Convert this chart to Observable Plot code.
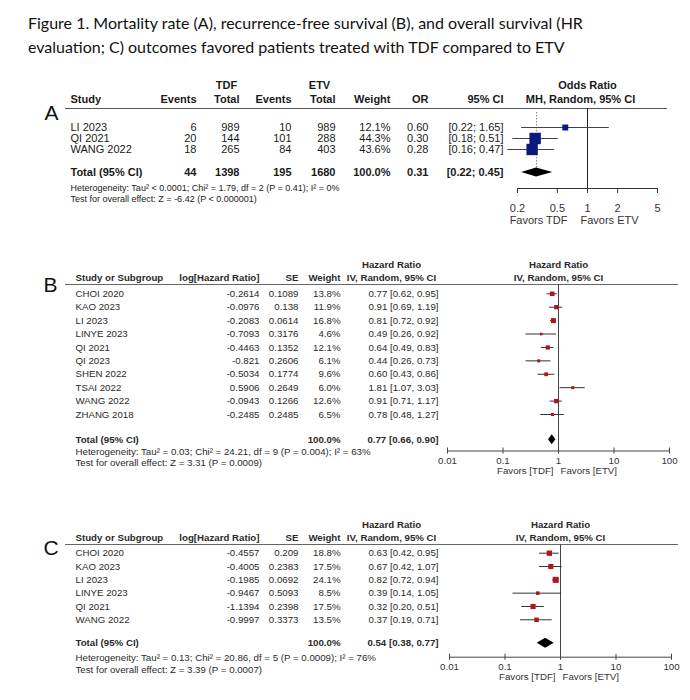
<!DOCTYPE html>
<html><head><meta charset="utf-8">
<script src="https://cdn.jsdelivr.net/npm/d3@7"></script>
<script src="https://cdn.jsdelivr.net/npm/@observablehq/plot@0.6"></script>
<style>
body{margin:0;background:#fff;}
#wrap{position:relative;width:690px;height:700px;background:#fff;overflow:hidden;}
#title{position:absolute;left:28px;top:11px;font-family:Lato,"Open Sans",sans-serif;font-size:16px;line-height:24px;color:#111;white-space:nowrap;}
.panel{position:absolute;left:0;}
</style></head><body>
<div id="wrap"><div id="title">Figure 1. Mortality rate (A), recurrence-free survival (B), and overall survival (HR<br>evaluation; C) outcomes favored patients treated with TDF compared to ETV</div></div>
<script>
// ---------- Panel A: mortality (odds ratio) ----------
const aStudies   = ["LI 2023", "QI 2021", "WANG 2022"];
const aTdfEvents = [6, 20, 18];
const aTdfTotal  = [989, 144, 265];
const aEtvEvents = [10, 101, 84];
const aEtvTotal  = [989, 288, 403];
const aWeight    = [12.1, 44.3, 43.6];
const aOR        = [0.60, 0.30, 0.28];
const aLo        = [0.22, 0.18, 0.16];
const aHi        = [1.65, 0.51, 0.47];
const aTotalCounts = [44, 1398, 195, 1680];
const aTotalOR   = [0.31, 0.22, 0.45]; // estimate, lower, upper
const aTicks     = [0.2, 0.5, 1, 2, 5];
const aHet  = "Heterogeneity: Tau\u00B2 < 0.0001; Chi\u00B2 = 1.79, df = 2 (P = 0.41); I\u00B2 = 0%";
const aTest = "Test for overall effect: Z = -6.42 (P < 0.000001)";

// ---------- Panel B: recurrence-free survival (hazard ratio) ----------
const bStudies = ["CHOI 2020","KAO 2023","LI 2023","LINYE 2023","QI 2021","QI 2023","SHEN 2022","TSAI 2022","WANG 2022","ZHANG 2018"];
const bLogHR   = [-0.2614, -0.0976, -0.2083, -0.7093, -0.4463, -0.821, -0.5034, 0.5906, -0.0943, -0.2485];
const bSE      = [0.1089, 0.138, 0.0614, 0.3176, 0.1352, 0.2606, 0.1774, 0.2649, 0.1266, 0.2485];
const bWeight  = [13.8, 11.9, 16.8, 4.6, 12.1, 6.1, 9.6, 6.0, 12.6, 6.5];
const bHR      = [0.77, 0.91, 0.81, 0.49, 0.64, 0.44, 0.60, 1.81, 0.91, 0.78];
const bLo      = [0.62, 0.69, 0.72, 0.26, 0.49, 0.26, 0.43, 1.07, 0.71, 0.48];
const bHi      = [0.95, 1.19, 0.92, 0.92, 0.83, 0.73, 0.86, 3.03, 1.17, 1.27];
const bTotal   = [0.77, 0.66, 0.90];
const bHet  = "Heterogeneity: Tau\u00B2 = 0.03; Chi\u00B2 = 24.21, df = 9 (P = 0.004); I\u00B2 = 63%";
const bTest = "Test for overall effect: Z = 3.31 (P = 0.0009)";

// ---------- Panel C: overall survival (hazard ratio) ----------
const cStudies = ["CHOI 2020","KAO 2023","LI 2023","LINYE 2023","QI 2021","WANG 2022"];
const cLogHR   = [-0.4557, -0.4005, -0.1985, -0.9467, -1.1394, -0.9997];
const cSE      = [0.209, 0.2383, 0.0692, 0.5093, 0.2398, 0.3373];
const cWeight  = [18.8, 17.5, 24.1, 8.5, 17.5, 13.5];
const cHR      = [0.63, 0.67, 0.82, 0.39, 0.32, 0.37];
const cLo      = [0.42, 0.42, 0.72, 0.14, 0.20, 0.19];
const cHi      = [0.95, 1.07, 0.94, 1.05, 0.51, 0.71];
const cTotal   = [0.54, 0.38, 0.77];
const cHet  = "Heterogeneity: Tau\u00B2 = 0.13; Chi\u00B2 = 20.86, df = 5 (P = 0.0009); I\u00B2 = 76%";
const cTest = "Test for overall effect: Z = 3.39 (P = 0.0007)";

const hrTicks = [0.01, 0.1, 1, 10, 100];

// ---------- helpers ----------
const f2 = d => d.toFixed(2);
const pct = d => d.toFixed(1) + "%";
const FONT = '"Liberation Sans", Arial, Helvetica, sans-serif';
const wrap = document.getElementById("wrap");
function place(svg, top) {
  const d = document.createElement("div");
  d.className = "panel"; d.style.top = top + "px";
  d.appendChild(svg); wrap.appendChild(d);
}
function diamondPts(t, est, lo, hi, h) {
  return [{x: lo, y1: t, y2: t}, {x: est, y1: t - h, y2: t + h}, {x: hi, y1: t, y2: t}];
}
const M = {lineAnchor: "middle"};

// ---------- Panel A ----------
(function () {
  const L = {top: 62, height: 170, headerLine: 46, row0: 65, rowStep: 11, totalGap: 2.1, axis: 126};
  const ry = px => (px - L.row0) / L.rowStep;
  const ink = "#1a1a1a";
  const rows = aStudies.map((study, i) => ({
    i, study, e1: aTdfEvents[i], n1: aTdfTotal[i], e2: aEtvEvents[i], n2: aEtvTotal[i],
    w: aWeight[i], or: aOR[i], lo: aLo[i], hi: aHi[i]
  }));
  const totRow = rows.length - 1 + L.totalGap;
  const tot = [{i: totRow, study: "Total (95% CI)", e1: aTotalCounts[0], n1: aTotalCounts[1],
    e2: aTotalCounts[2], n2: aTotalCounts[3], w: 100, or: aTotalOR[0], lo: aTotalOR[1], hi: aTotalOR[2]}];
  const col = (data, text, dx, anchor, extra = {}) =>
    Plot.text(data, {y: "i", text, frameAnchor: "left", dx, textAnchor: anchor, fontSize: 11, fill: ink, ...M, ...extra});
  const hdr = (label, dx, dy, anchor) =>
    Plot.text([label], {text: d => d, frameAnchor: "top-left", dx, dy, textAnchor: anchor, fontWeight: "bold", fontSize: 11, fill: ink, ...M});
  const columns = (data, extra) => [
    col(data, "study", 70, "start", extra),
    col(data, d => String(d.e1), 196, "end", extra),
    col(data, d => String(d.n1), 239, "end", extra),
    col(data, d => String(d.e2), 291, "end", extra),
    col(data, d => String(d.n2), 335, "end", extra),
    col(data, d => pct(d.w), 390, "end", extra),
    col(data, d => f2(d.or), 428, "end", extra),
    col(data, d => `[${f2(d.lo)}; ${f2(d.hi)}]`, 503, "end", extra)
  ];
  const axisLine = [{y: ry(L.axis), a: aTicks[0], b: aTicks[aTicks.length - 1]}];
  const svg = Plot.plot({
    width: 690, height: L.height,
    marginLeft: 0, marginRight: 0, marginTop: L.headerLine, marginBottom: L.height - L.axis,
    style: {fontFamily: FONT, background: "#fff", overflow: "visible"},
    x: {type: "log", domain: [aTicks[0], aTicks[aTicks.length - 1]], range: [517, 657], axis: null},
    y: {domain: [0, 1], range: [L.row0, L.row0 + L.rowStep], axis: null},
    r: {type: "sqrt", domain: [0, 100], range: [0, 9.7]},
    marks: [
      Plot.text(["A"], {text: d => d, frameAnchor: "top-left", dx: 44, dy: 113 - L.top - L.headerLine, fontSize: 21, fill: "#111", ...M}),
      hdr("TDF", 226, -23, "middle"), hdr("ETV", 319, -23, "middle"),
      hdr("Study", 70, -9, "start"), hdr("Events", 196, -9, "end"), hdr("Total", 239, -9, "end"),
      hdr("Events", 291, -9, "end"), hdr("Total", 335, -9, "end"), hdr("Weight", 390, -9, "end"),
      hdr("OR", 428, -9, "end"), hdr("95% CI", 503, -9, "end"),
      Plot.text([1], {x: d => d, text: () => "Odds Ratio", frameAnchor: "top", dy: -23, fontWeight: "bold", fontSize: 11, fill: ink, ...M}),
      Plot.text([1], {x: d => d, text: () => "MH, Random, 95% CI", frameAnchor: "top", dx: -7, dy: -9, fontWeight: "bold", fontSize: 11, fill: ink, ...M}),
      Plot.ruleY([ry(L.headerLine)], {y: d => d, insetLeft: 65, insetRight: 23, stroke: "#555", strokeWidth: 1}),
      ...columns(rows, {}),
      ...columns(tot, {fontWeight: "bold"}),
      Plot.text([aHet], {text: d => d, frameAnchor: "bottom-left", dx: 70, dy: 0, fontSize: 9, fill: ink, ...M}),
      Plot.text([aTest], {text: d => d, frameAnchor: "bottom-left", dx: 70, dy: 11, fontSize: 9, fill: ink, ...M}),
      Plot.ruleX([aTotalOR[0]], {x: d => d, y1: ry(L.headerLine + 4), y2: totRow, stroke: "#888", strokeDasharray: "1.5,1.5"}),
      Plot.ruleX([1], {x: d => d, stroke: "#222"}),
      Plot.ruleY(rows, {y: "i", x1: "lo", x2: "hi", stroke: "#444"}),
      Plot.dot(rows, {x: "or", y: "i", r: "w", symbol: "square", fill: "#0b1a7a", stroke: null}),
      Plot.areaY(diamondPts(totRow, aTotalOR[0], aTotalOR[1], aTotalOR[2], 4.5 / L.rowStep), {x: "x", y1: "y1", y2: "y2", fill: "#000"}),
      Plot.ruleY(axisLine, {y: "y", x1: "a", x2: "b", stroke: "#333"}),
      Plot.ruleX(aTicks, {x: d => d, y1: ry(L.axis), y2: ry(L.axis + 5), stroke: "#333"}),
      Plot.text(aTicks, {x: d => d, y: ry(L.axis + 20), text: d => String(d), fontSize: 11, fill: "#333", ...M}),
      Plot.text([1], {x: d => d, text: () => "Favors TDF", frameAnchor: "bottom", dx: -20, dy: 32, textAnchor: "end", fontSize: 11, fill: "#333", ...M}),
      Plot.text([1], {x: d => d, text: () => "Favors ETV", frameAnchor: "bottom", dx: -7, dy: 32, textAnchor: "start", fontSize: 11, fill: "#333", ...M})
    ]
  });
  place(svg, L.top);
})();

// ---------- Panels B and C (hazard ratio) ----------
function hrPanel(letter, L, studies, logHR, se, weight, hr, lo, hi, total, het, test) {
  const ry = px => (px - L.row0) / L.rowStep;
  const fs = 9.7, ink = "#2a2a2a";
  const rows = studies.map((study, i) => ({i, study, lhr: logHR[i], se: se[i], w: weight[i], hr: hr[i], lo: lo[i], hi: hi[i]}));
  const totRow = rows.length - 1 + L.totalGap;
  const tot = [{i: totRow, study: "Total (95% CI)", w: 100, hr: total[0], lo: total[1], hi: total[2]}];
  const col = (data, text, dx, anchor, extra = {}) =>
    Plot.text(data, {y: "i", text, frameAnchor: "left", dx, textAnchor: anchor, fontSize: fs, fill: ink, ...M, ...extra});
  const hdr = (label, dx, dy, anchor) =>
    Plot.text([label], {text: d => d, frameAnchor: "top-left", dx, dy, textAnchor: anchor, fontWeight: "bold", fontSize: fs, fill: ink, ...M});
  const ci = d => `${f2(d.hr)} [${f2(d.lo)}, ${f2(d.hi)}]`;
  const svg = Plot.plot({
    width: 690, height: L.height,
    marginLeft: 0, marginRight: 0, marginTop: L.headerLine, marginBottom: L.height - L.axis,
    style: {fontFamily: FONT, background: "#fff", overflow: "visible"},
    x: {type: "log", domain: [hrTicks[0], hrTicks[hrTicks.length - 1]], range: L.xRange, axis: null},
    y: {domain: [0, 1], range: [L.row0, L.row0 + L.rowStep], axis: null},
    r: {type: "sqrt", domain: [0, 100], range: [0, 6.9]},
    marks: [
      Plot.text([letter], {text: d => d, frameAnchor: "top-left", dx: 43, dy: L.letterY - L.headerLine, fontSize: 21, fill: "#111", ...M}),
      hdr("Hazard Ratio", 391, -19.5, "middle"),
      hdr("Study or Subgroup", 75, -6.5, "start"), hdr("log[Hazard Ratio]", 259, -6.5, "end"),
      hdr("SE", 298, -6.5, "end"), hdr("Weight", 340, -6.5, "end"), hdr("IV, Random, 95% CI", 391, -6.5, "middle"),
      Plot.text([1], {x: d => d, text: () => "Hazard Ratio", frameAnchor: "top", dy: -19.5, fontWeight: "bold", fontSize: fs, fill: ink, ...M}),
      Plot.text([1], {x: d => d, text: () => "IV, Random, 95% CI", frameAnchor: "top", dy: -6.5, fontWeight: "bold", fontSize: fs, fill: ink, ...M}),
      Plot.ruleY([ry(L.headerLine)], {y: d => d, insetLeft: 65, insetRight: 12, stroke: "#666", strokeWidth: 1}),
      col(rows, "study", 75, "start"),
      col(rows, d => String(d.lhr), 259, "end"),
      col(rows, d => String(d.se), 298, "end"),
      col(rows, d => pct(d.w), 340, "end"),
      col(rows, ci, 438, "end"),
      col(tot, "study", 75, "start", {fontWeight: "bold"}),
      col(tot, d => pct(d.w), 340, "end", {fontWeight: "bold"}),
      col(tot, ci, 438, "end", {fontWeight: "bold"}),
      Plot.text([het], {text: d => d, frameAnchor: "bottom-left", dx: 75, dy: 0.5, fontSize: fs, fill: ink, ...M}),
      Plot.text([test], {text: d => d, frameAnchor: "bottom-left", dx: 75, dy: 12.3, fontSize: fs, fill: ink, ...M}),
      Plot.ruleX([1], {x: d => d, stroke: "#444"}),
      Plot.ruleY(rows, {y: "i", x1: "lo", x2: "hi", stroke: "#333"}),
      Plot.dot(rows, {x: "hr", y: "i", r: "w", symbol: "square", fill: "#b0141c", stroke: null}),
      Plot.areaY(diamondPts(totRow, total[0], total[1], total[2], 5 / L.rowStep), {x: "x", y1: "y1", y2: "y2", fill: "#000"}),
      Plot.ruleY([{y: ry(L.axis), a: hrTicks[0], b: hrTicks[hrTicks.length - 1]}], {y: "y", x1: "a", x2: "b", stroke: "#444"}),
      Plot.ruleX(hrTicks, {x: d => d, y1: ry(L.axis - 3), y2: ry(L.axis + 3), stroke: "#444"}),
      Plot.text(hrTicks, {x: d => d, y: ry(L.axis + 9.7), text: d => String(d), fontSize: fs, fill: "#333", ...M}),
      Plot.text([1], {x: d => d, text: () => "Favors [TDF]", frameAnchor: "bottom", dx: -5, dy: 19.5, textAnchor: "end", fontSize: fs, fill: "#333", ...M}),
      Plot.text([1], {x: d => d, text: () => "Favors [ETV]", frameAnchor: "bottom", dx: 2, dy: 19.5, textAnchor: "start", fontSize: fs, fill: "#333", ...M})
    ]
  });
  place(svg, L.top);
}

hrPanel("B", {top: 250, height: 230, headerLine: 34, row0: 43.3, rowStep: 13.41, totalGap: 1.89, axis: 200.5, letterY: 35, xRange: [447, 669]},
  bStudies, bLogHR, bSE, bWeight, bHR, bLo, bHi, bTotal, bHet, bTest);
hrPanel("C", {top: 505, height: 190, headerLine: 39, row0: 47.7, rowStep: 13.32, totalGap: 1.76, axis: 151.7, letterY: 43, xRange: [449, 671]},
  cStudies, cLogHR, cSE, cWeight, cHR, cLo, cHi, cTotal, cHet, cTest);
</script>
</body></html>
